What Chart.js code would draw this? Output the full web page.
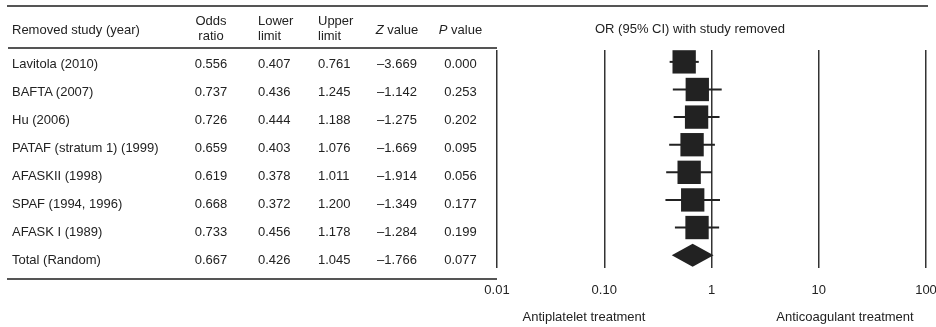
<!DOCTYPE html>
<html>
<head>
<meta charset="utf-8">
<script src="https://cdn.jsdelivr.net/npm/chart.js@4.4.1/dist/chart.umd.min.js"></script>
<style>
  html, body { margin: 0; padding: 0; background: #fff; }
  body {
    width: 936px; height: 327px; overflow: hidden; position: relative;
    font-family: "Liberation Sans", Arial, Helvetica, sans-serif; font-size: 13px; color: #222;
  }
  #chart { position: absolute; left: 0; top: 0; }
  .txt { position: absolute; line-height: 15px; white-space: nowrap; }
  .rule { position: absolute; height: 2px; background: #555; }
</style>
</head>
<body>
<canvas id="chart" width="951" height="327"></canvas>
<div class="rule" style="left:7px;top:5px;width:921px"></div>
<div class="rule" style="left:8px;top:47px;width:489px"></div>
<div class="rule" style="left:7px;top:278px;width:490px"></div>
<div class="txt" style="left:590px;top:21px;width:200px;text-align:center">OR (95% CI) with study removed</div>
<div class="txt" style="left:504px;top:309px;width:160px;text-align:center">Antiplatelet treatment</div>
<div class="txt" style="left:765px;top:309px;width:160px;text-align:center">Anticoagulant treatment</div>
<div id="table"></div>
<script>
const studies = ["Lavitola (2010)", "BAFTA (2007)", "Hu (2006)", "PATAF (stratum 1) (1999)",
    "AFASKII (1998)", "SPAF (1994, 1996)", "AFASK I (1989)", "Total (Random)"];
const oddsRatio = [0.556, 0.737, 0.726, 0.659, 0.619, 0.668, 0.733, 0.667];
const lowerLimit = [0.407, 0.436, 0.444, 0.403, 0.378, 0.372, 0.456, 0.426];
const upperLimit = [0.761, 1.245, 1.188, 1.076, 1.011, 1.200, 1.178, 1.045];
const zValue = [-3.669, -1.142, -1.275, -1.669, -1.914, -1.349, -1.284, -1.766];
const pValue = [0.000, 0.253, 0.202, 0.095, 0.056, 0.177, 0.199, 0.077];
const headers = ["Removed study (year)", "Odds<br>ratio", "Lower<br>limit", "Upper<br>limit", "<i>Z</i> value", "<i>P</i> value"];
const tickValues = [0.01, 0.1, 1, 10, 100];
const tickLabels = ["0.01", "0.10", "1", "10", "100"];

const nStudies = studies.length - 1; // last row is the pooled total
const FONT = '"Liberation Sans", Arial, Helvetica, sans-serif';

(() => {
    // left-hand table
    const cols = [
        { left: 12, width: 170, align: "left" },
        { left: 185, width: 52, align: "center" },
        { left: 258, width: 50, align: "left" },
        { left: 318, width: 50, align: "left" },
        { left: 370, width: 54, align: "center" },
        { left: 424, width: 73, align: "center" },
    ];
    const fmt = (v) => (v < 0 ? "\u2013" : "") + Math.abs(v).toFixed(3);
    const table = document.getElementById("table");
    const cell = (html, c, top) => {
        const d = document.createElement("div");
        d.className = "txt";
        d.style.left = c.left + "px";
        d.style.width = c.width + "px";
        d.style.textAlign = c.align;
        d.style.top = top + "px";
        d.innerHTML = html;
        table.appendChild(d);
    };
    headers.forEach((h, j) => cell(h, cols[j], h.includes("<br>") ? 13 : 22));
    studies.forEach((s, i) => {
        const top = 56 + 28 * i;
        const row = [s, fmt(oddsRatio[i]), fmt(lowerLimit[i]), fmt(upperLimit[i]), fmt(zValue[i]), fmt(pValue[i])];
        row.forEach((t, j) => cell(t, cols[j], top));
    });
})();

const forestMarks = {
    id: "forestMarks",
    beforeDatasetsDraw(chart) {
        // confidence interval whiskers
        const { ctx, scales: { x, y } } = chart;
        ctx.save();
        ctx.strokeStyle = "#222";
        ctx.lineWidth = 2;
        for (let i = 0; i < nStudies; i++) {
            const py = y.getPixelForValue(i);
            ctx.beginPath();
            ctx.moveTo(x.getPixelForValue(lowerLimit[i]), py);
            ctx.lineTo(x.getPixelForValue(upperLimit[i]), py);
            ctx.stroke();
        }
        ctx.restore();
    },
    afterDatasetsDraw(chart) {
        // pooled estimate diamond
        const { ctx, scales: { x, y } } = chart;
        const t = nStudies;
        const py = y.getPixelForValue(t);
        const half = 11.5;
        ctx.save();
        ctx.fillStyle = "#222";
        ctx.beginPath();
        ctx.moveTo(x.getPixelForValue(lowerLimit[t]), py);
        ctx.lineTo(x.getPixelForValue(oddsRatio[t]), py - half);
        ctx.lineTo(x.getPixelForValue(upperLimit[t]), py);
        ctx.lineTo(x.getPixelForValue(oddsRatio[t]), py + half);
        ctx.closePath();
        ctx.fill();
        ctx.restore();
    },
};

new Chart(document.getElementById("chart"), {
    type: "scatter",
    data: {
        datasets: [{
            data: oddsRatio.slice(0, nStudies).map((v, i) => ({ x: v, y: i })),
            pointStyle: "rect",
            pointRadius: 16.5,
            pointHoverRadius: 16.5,
            backgroundColor: "#222",
            borderWidth: 0,
            clip: false,
        }],
    },
    options: {
        responsive: false,
        animation: false,
        events: [],
        // the canvas runs past the window on the right so "100" is cut like the original
        layout: { padding: { left: 497, right: 25, top: 50, bottom: 15 } },
        plugins: {
            legend: { display: false },
            tooltip: { enabled: false },
        },
        scales: {
            x: {
                type: "logarithmic",
                min: 0.01,
                max: 100,
                afterBuildTicks: (s) => { s.ticks = tickValues.map((v) => ({ value: v })); },
                ticks: {
                    callback: (v, i) => tickLabels[i],
                    padding: 14,
                    autoSkip: false,
                    maxRotation: 0,
                    color: "#222",
                    font: { family: FONT, size: 13 },
                },
                grid: { color: "#333", lineWidth: 1.5, drawTicks: false },
                border: { display: false },
            },
            y: {
                type: "linear",
                display: false,
                reverse: true,
                min: -0.43,
                max: 7.48,
            },
        },
    },
    plugins: [forestMarks],
});
</script>
</body>
</html>
